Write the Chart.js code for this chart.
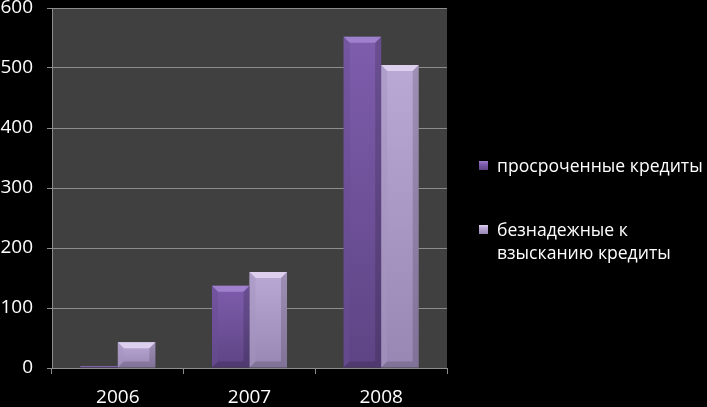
<!DOCTYPE html>
<html>
<head>
<meta charset="utf-8">
<script src="https://cdn.jsdelivr.net/npm/chart.js@4.4.1/dist/chart.umd.min.js"></script>
<style>
  body { margin: 0; background: #000; }
  #wrap { position: relative; width: 707px; height: 407px; }
  #legend { position: absolute; left: 479px; top: 0; color: #fff; font-family: "Open Sans", sans-serif; font-size: 17.6px; line-height: 23px; }
  .item { position: absolute; left: 0; width: 228px; }
  .box { position: absolute; left: 0; top: 7px; width: 9px; height: 9px; }
  .txt { margin-left: 18px; width: 212px; }
</style>
</head>
<body>
<div id="wrap">
  <canvas id="chart" width="707" height="407"></canvas>
  <div id="legend"></div>
</div>
<script>
// data
const years = ["2006", "2007", "2008"];
const overdue = [3, 137, 552];
const hopeless = [43, 160, 505];
const seriesNames = ["просроченные кредиты", "безнадежные к взысканию кредиты"];

// colours: [top, bottom, bevel top, bevel side]
const purple = ["#7e5dad", "#5e4484", "#9e80cc", "#6a4e93"];
const lilac = ["#bba9d5", "#9886b3", "#dcd0ee", "#a593c0"];
const gridColor = "#8c8c8c";

const barFill = (c) => (ctx) => {
  if (ctx.type !== "data" || !ctx.chart.scales.y) return c[0];
  const y = ctx.chart.scales.y;
  const top = y.getPixelForValue(ctx.raw), base = y.getPixelForValue(0);
  if (!(base > top)) return c[0];
  const g = ctx.chart.ctx.createLinearGradient(0, top, 0, base);
  g.addColorStop(0, c[0]);
  g.addColorStop(1, c[1]);
  return g;
};

// plot area fill
const plotBg = {
  id: "plotBg",
  beforeDraw(chart) {
    const { ctx, chartArea: a } = chart;
    ctx.save();
    ctx.fillStyle = "#404040";
    ctx.fillRect(a.left, a.top, a.right - a.left, a.bottom - a.top);
    ctx.restore();
  }
};

// bevelled look of the bars
const bevel = {
  id: "bevel",
  afterDatasetsDraw(chart) {
    const ctx = chart.ctx;
    const cols = [purple, lilac];
    chart.getSortedVisibleDatasetMetas().forEach((meta) => {
      const c = cols[meta.index];
      meta.data.forEach((bar) => {
        const { x, y, base, width } = bar.getProps(["x", "y", "base", "width"], true);
        const l = x - width / 2, r = x + width / 2, h = base - y;
        const b = Math.min(6, h / 2);
        if (h < 1) return;
        ctx.save();
        ctx.fillStyle = c[2];
        ctx.beginPath();
        ctx.moveTo(l, y); ctx.lineTo(r, y); ctx.lineTo(r - b, y + b); ctx.lineTo(l + b, y + b);
        ctx.closePath(); ctx.fill();
        ctx.globalAlpha = 0.5;
        ctx.fillStyle = c[3];
        ctx.beginPath();
        ctx.moveTo(l, y); ctx.lineTo(l + b, y + b); ctx.lineTo(l + b, base - b); ctx.lineTo(l, base);
        ctx.closePath(); ctx.fill();
        ctx.fillStyle = "rgba(0,0,0,0.3)";
        ctx.beginPath();
        ctx.moveTo(r, y); ctx.lineTo(r - b, y + b); ctx.lineTo(r - b, base - b); ctx.lineTo(r, base);
        ctx.closePath(); ctx.fill();
        ctx.beginPath();
        ctx.moveTo(l, base); ctx.lineTo(l + b, base - b); ctx.lineTo(r - b, base - b); ctx.lineTo(r, base);
        ctx.closePath(); ctx.fill();
        ctx.restore();
      });
    });
  }
};

const tickFont = { family: "'Open Sans', sans-serif", size: 19 };

const chart = new Chart(document.getElementById("chart"), {
  type: "bar",
  plugins: [plotBg, bevel],
  data: {
    labels: years,
    datasets: [
      { label: seriesNames[0], data: overdue, backgroundColor: barFill(purple) },
      { label: seriesNames[1], data: hopeless, backgroundColor: barFill(lilac) }
    ]
  },
  options: {
    responsive: false,
    animation: false,
    categoryPercentage: 0.57,
    barPercentage: 1,
    layout: { padding: { right: 260, top: 0 } },
    plugins: { legend: { display: false }, tooltip: { enabled: false } },
    scales: {
      x: {
        grid: { offset: true, drawOnChartArea: false, color: gridColor, tickLength: 6 },
        border: { color: gridColor },
        ticks: { color: "#fff", font: tickFont, padding: 12 },
        afterFit: (s) => { s.height = 39; s.paddingLeft = 0; s.paddingRight = 0; }
      },
      y: {
        min: 0, max: 600,
        grid: { color: gridColor, tickLength: 5 },
        border: { color: gridColor },
        ticks: { color: "#fff", font: tickFont, stepSize: 100, padding: 14 },
        afterFit: (s) => { s.width = 52; s.paddingTop = 8; s.paddingBottom = 0; }
      }
    }
  }
});

// legend as html, so the second entry can wrap
const legend = document.getElementById("legend");
const tops = [154, 218];
const boxGrad = [
  "linear-gradient(180deg,#9e80cc 0,#7e5dad 35%,#5e4484 100%)",
  "linear-gradient(180deg,#dcd0ee 0,#bba9d5 35%,#9886b3 100%)"
];
seriesNames.forEach((name, i) => {
  const item = document.createElement("div");
  item.className = "item";
  item.style.top = tops[i] + "px";
  item.innerHTML = '<div class="box" style="background:' + boxGrad[i] + '"></div><div class="txt"' +
    (i === 0 ? ' style="white-space:nowrap"' : "") + ">" + name + "</div>";
  legend.appendChild(item);
});
</script>
</body>
</html>
